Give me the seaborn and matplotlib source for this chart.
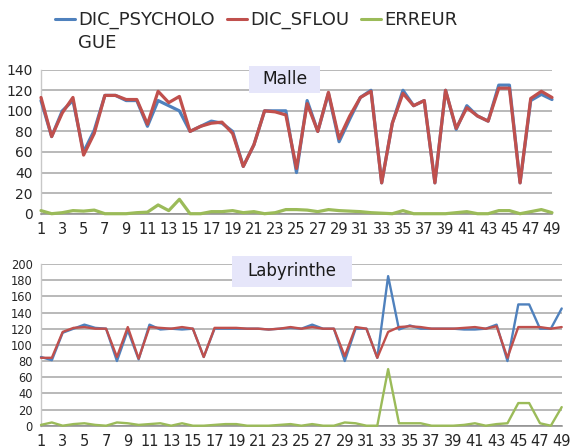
import numpy as np
import pandas as pd
import matplotlib
matplotlib.use("Agg")
import matplotlib.pyplot as plt
import seaborn as sns
from matplotlib.lines import Line2D
from matplotlib.patches import Rectangle

# ---------------- data ----------------
idx = list(range(1, 50))
series_names = ["DIC_PSYCHOLOGUE", "DIC_SFLOU", "ERREUR"]

malle_psy = [110, 75, 100, 110, 60, 81, 115, 115, 110, 110, 85, 110, 105, 100, 80, 85, 90, 88, 80, 46,
             67, 100, 100, 100, 40, 110, 80, 117, 70, 92, 113, 120, 30, 88, 120, 105, 110, 30, 120, 82,
             105, 95, 90, 125, 125, 30, 110, 116, 111]
malle_sflou = [113, 75, 98, 113, 57, 78, 115, 115, 111, 111, 87, 119, 108, 114, 80, 85, 88, 89, 78, 46,
               67, 100, 99, 96, 44, 107, 80, 118, 73, 95, 113, 119, 30, 88, 117, 105, 110, 30, 120, 83,
               103, 95, 90, 122, 122, 30, 112, 119, 113]
malle_err = [3, 0, 1, 3, 2.5, 3.5, 0, 0, 0, 1, 1.5, 8.5, 3, 14, 0, 0, 2, 2, 3, 1,
             2, 0, 1, 4, 4, 3.5, 2, 4, 3, 2.5, 2, 1, 0.5, 0, 3, 0, 0, 0, 0, 1,
             2, 0, 0, 3, 3, 0, 2, 4, 1]

laby_psy = [85, 81, 115, 120, 125, 121, 120, 80, 118, 82, 125, 119, 120, 119, 120, 85, 120, 120, 120, 120,
            120, 119, 120, 121, 120, 125, 120, 120, 80, 120, 120, 84, 185, 119, 124, 120, 120, 120, 120, 119,
            119, 120, 125, 80, 150, 150, 120, 120, 145]
laby_sflou = [84, 84, 116, 121, 122, 120, 120, 85, 122, 83, 122, 121, 120, 122, 120, 85, 121, 121, 121, 120,
              120, 119, 120, 122, 120, 122, 120, 120, 86, 122, 120, 84, 116, 122, 123, 122, 120, 120, 120, 121,
              122, 120, 123, 84, 122, 122, 122, 120, 122]
laby_err = [1, 4, 0, 2, 3, 1, 0, 4, 3, 1, 2, 3, 0, 3, 0, 0, 1, 2, 2, 0,
            0, 0, 1, 2, 0, 2, 0, 0, 4, 3, 0, 0, 70, 3, 3, 3, 0, 0, 0, 1,
            3, 0, 2, 3, 28, 28, 3, 0, 23]

titles = ["Malle", "Labyrinthe"]
malle_yticks = [0, 20, 40, 60, 80, 100, 120, 140]
laby_yticks = [0, 20, 40, 60, 80, 100, 120, 140, 160, 180, 200]
xtick_labels = [str(i) if i % 2 == 1 else "" for i in idx]

palette = {"DIC_PSYCHOLOGUE": "#4F81BD", "DIC_SFLOU": "#C0504D", "ERREUR": "#9BBB59"}


def long_df(a, b, c):
    return pd.DataFrame({
        "x": idx * 3,
        "value": a + b + c,
        "serie": [series_names[0]] * 49 + [series_names[1]] * 49 + [series_names[2]] * 49,
    })


# ---------------- figure ----------------
sns.set_style("white")
plt.rcParams["font.family"] = ["DejaVu Sans"]
W, H = 571, 448
fig = plt.figure(figsize=(W / 100, H / 100), dpi=100)

ax1 = fig.add_axes([41 / W, 1 - 213.7 / H, (552 - 41) / W, 144 / H])
ax2 = fig.add_axes([41 / W, 1 - 425.7 / H, (561.7 - 41) / W, (425.7 - 264) / H])

GRID = "#a6a6a6"


def style_axes(ax, yticks, ylab_size, xlab_size):
    ax.set_xlim(1, 49)
    ax.set_ylim(0, yticks[-1])
    ax.set_yticks(yticks)
    ax.set_yticklabels([str(v) for v in yticks], fontsize=ylab_size)
    ax.set_xticks(idx)
    ax.set_xticklabels(xtick_labels, fontsize=xlab_size)
    ax.yaxis.grid(True, color=GRID, lw=1.1, zorder=0)
    ax.xaxis.grid(False)
    ax.set_axisbelow(True)
    for s in ["top", "right"]:
        ax.spines[s].set_visible(False)
    ax.spines["left"].set_color("#c8c8c8")
    ax.spines["left"].set_linewidth(1.0)
    ax.spines["bottom"].set_color("#8c8c8c")
    ax.spines["bottom"].set_linewidth(1.1)
    ax.tick_params(axis="x", length=4, width=0.8, color="#9a9a9a", direction="out", pad=2)
    ax.tick_params(axis="y", length=4, width=0.8, color="#9a9a9a", direction="out", pad=2)
    ax.set_xlabel("")
    ax.set_ylabel("")


df1 = long_df(malle_psy, malle_sflou, malle_err)
sns.lineplot(data=df1, x="x", y="value", hue="serie", palette=palette, ax=ax1,
             linewidth=2.3, legend=False, zorder=4)
style_axes(ax1, malle_yticks, 10, 10.5)

df2 = long_df(laby_psy, laby_sflou, laby_err)
sns.lineplot(data=df2, x="x", y="value", hue="serie", palette=palette, ax=ax2,
             linewidth=1.7, legend=False, zorder=4)
style_axes(ax2, laby_yticks, 8.3, 10.5)

for ax in (ax1, ax2):
    for ln in ax.lines:
        ln.set_solid_joinstyle("round")
        ln.set_clip_on(False)

# title boxes
BOX = "#e6e6fa"
ax1.add_patch(Rectangle((0.407, 0.838), 0.139, 0.188, transform=ax1.transAxes,
                        facecolor=BOX, edgecolor="none", clip_on=False, zorder=3))
ax1.text(0.4765, 0.932, titles[0], transform=ax1.transAxes, ha="center", va="center",
         fontsize=12.3, color="#1a1a1a", zorder=5)
ax2.add_patch(Rectangle((0.367, 0.86), 0.230, 0.19, transform=ax2.transAxes,
                        facecolor=BOX, edgecolor="none", clip_on=False, zorder=3))
ax2.text(0.482, 0.957, titles[1], transform=ax2.transAxes, ha="center", va="center",
         fontsize=12, color="#1a1a1a", zorder=5)

# legend
handles = [Line2D([], [], color=palette[n], lw=2.2) for n in series_names]
labels = ["DIC_PSYCHOLO", "DIC_SFLOU", "ERREUR"]
leg = fig.legend(handles, labels, loc="upper left", bbox_to_anchor=(55 / W, 1 - 11 / H),
                 ncol=3, frameon=False, fontsize=13, handlelength=1.1, handletextpad=0.2,
                 columnspacing=0.65, borderpad=0, borderaxespad=0)
fig.canvas.draw()
ext = leg.get_texts()[0].get_window_extent()
x0 = ext.x0 / fig.bbox.width
fig.text(x0, 1 - 48 / H, "GUE", fontsize=13, ha="left", va="baseline")

fig.savefig("out.png", dpi=100)
